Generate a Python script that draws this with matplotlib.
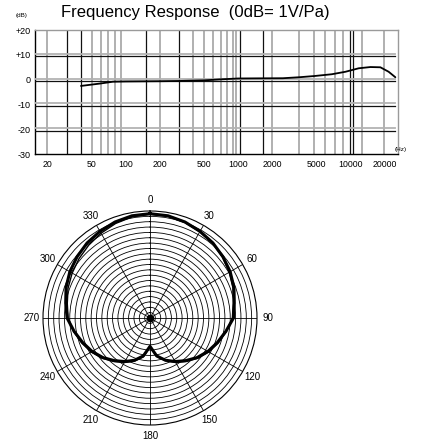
import numpy as np
import matplotlib
matplotlib.use('Agg')
import matplotlib.pyplot as plt
from matplotlib.transforms import ScaledTranslation

plt.rcParams['font.family'] = ['Liberation Sans', 'DejaVu Sans']

# ---------------- data: frequency response ----------------
freq_hz = [40, 60, 77, 100, 200, 300, 500, 700, 1000, 1500, 2500, 3500,
           4800, 6800, 9000, 11800, 15000, 18400, 21800, 25000]
response_db = [-2.5, -1.5, -0.8, -0.7, -0.6, -0.5, -0.25, 0.15, 0.5, 0.55,
               0.6, 1.0, 1.5, 2.2, 3.2, 4.6, 5.1, 5.0, 3.2, 1.0]

freq_ticks = [20, 50, 100, 200, 500, 1000, 2000, 5000, 10000, 20000]
db_ticks = [20, 10, 0, -10, -20, -30]
db_tick_labels = ['+20', '+10', '0', '-10', '-20', '-30']
db_grid = [10, 0, -10, -20]
grid_light = [20, 50, 60, 70, 80, 90, 200, 400, 500, 600, 700, 800, 900, 950,
              2000, 3500, 4700, 5900, 7300, 8600, 12600, 20000]
grid_dark = [30, 40, 150, 300, 1030, 1650, 9800, 10400]

# ---------------- data: polar pattern (dB, outer ring = 0 dB) ----------------
angles_deg = list(range(0, 361, 10))
pattern_a = [-0.5, -0.6, -0.9, -1.3, -1.7, -2.2, -2.7, -3.3, -4.0, -4.4,
             -5.6, -6.6, -7.5, -8.5, -9.6, -10.6, -11.6, -12.8, -14.7,
             -12.8, -11.6, -10.6, -9.6, -8.5, -7.5, -6.6, -5.6, -4.5, -4.0,
             -3.3, -2.7, -2.2, -1.7, -1.3, -0.9, -0.6, -0.5]
pattern_b = [-0.6, -0.7, -1.0, -1.4, -1.8, -2.3, -2.9, -3.5, -4.2, -4.6,
             -5.5, -6.4, -7.3, -8.3, -9.4, -10.4, -11.5, -12.7, -14.6,
             -12.6, -11.4, -10.4, -9.4, -8.3, -7.3, -6.4, -5.5, -4.7, -4.3,
             -3.7, -3.2, -2.7, -2.2, -1.7, -1.2, -0.8, -0.6]
angle_ticks = list(range(0, 360, 30))

W, H = 422, 441
fig = plt.figure(figsize=(W / 100, H / 100), dpi=100)

# ---------------- frequency response axes ----------------
ax = fig.add_axes([35 / W, 1 - 154.3 / H, 363 / W, 124.3 / H])
ax.set_xscale('log')
ax.set_xlim(15.6, 26400)
ax.set_ylim(-30, 20)

for f in grid_light:
    ax.axvline(f, color='#a3a3a3', lw=1.2, zorder=1)
for f in grid_dark:
    ax.axvline(f, color='#111111', lw=0.9, zorder=2)

up = ScaledTranslation(0, 0.8 / 72, fig.dpi_scale_trans)
down = ScaledTranslation(0, -0.9 / 72, fig.dpi_scale_trans)
for v in db_grid:
    g = ax.axhline(v, xmax=0.993, color='#b3b3b3', lw=1.3, zorder=3)
    g.set_transform(g.get_transform() + up)
    b = ax.axhline(v, xmax=0.993, color='#111111', lw=0.9, zorder=4)
    b.set_transform(b.get_transform() + down)

ax.plot(freq_hz, response_db, color='black', lw=1.3, zorder=5,
        solid_capstyle='round')

ax.set_xticks(freq_ticks)
ax.set_xticklabels([str(f) for f in freq_ticks])
ax.xaxis.set_minor_locator(matplotlib.ticker.NullLocator())
ax.set_yticks(db_ticks)
ax.set_yticklabels(db_tick_labels)
ax.tick_params(axis='x', length=0, pad=4, labelsize=6.3)
ax.tick_params(axis='y', length=0, pad=3, labelsize=6.5)
for s in ['left', 'bottom']:
    ax.spines[s].set_color('black')
    ax.spines[s].set_linewidth(1.0)
for s in ['top', 'right']:
    ax.spines[s].set_color('#9a9a9a')
    ax.spines[s].set_linewidth(1.0)

fig.text(61 / W, 1 - 13 / H, 'Frequency Response  (0dB= 1V/Pa)',
         ha='left', va='center', fontsize=12)
fig.text(21.5 / W, 1 - 15 / H, '(dB)', ha='center', va='center', fontsize=4.5)
fig.text(401 / W, 1 - 149 / H, '(Hz)', ha='center', va='center', fontsize=4.6)

# ---------------- polar pattern axes ----------------
pax = fig.add_axes([43 / W, 16 / H, 214 / W, 214 / H], projection='polar')
pax.set_theta_zero_location('N')
pax.set_theta_direction(-1)
pax.set_ylim(-20, 0)
pax.set_yticks(list(range(-19, 0)))
pax.set_yticklabels([])
pax.set_xticks(np.deg2rad(angle_ticks))
pax.set_xticklabels([str(a) for a in angle_ticks])
pax.tick_params(axis='x', pad=-2.5, labelsize=7)
pax.grid(True, color='black', lw=0.6)
pax.spines['polar'].set_color('black')
pax.spines['polar'].set_linewidth(0.8)

th = np.deg2rad(angles_deg)
pax.plot(th, pattern_b, color='black', lw=1.0, zorder=5)
pax.plot(th, pattern_a, color='black', lw=2.2, zorder=6)
pax.plot([0], [-20], 'o', color='black', ms=4.5, zorder=7)

fig.savefig('out.png', dpi=100)
